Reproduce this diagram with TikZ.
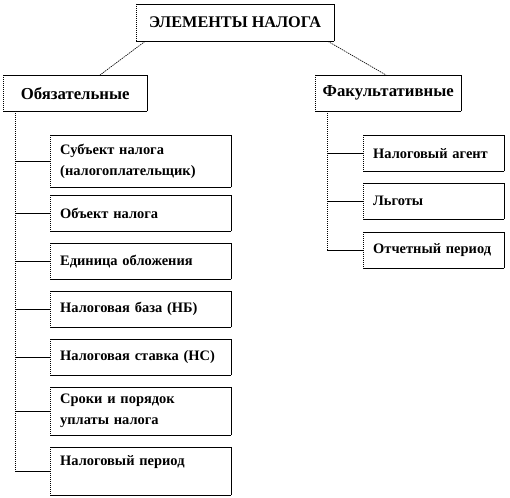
\documentclass[tikz,border=0pt]{standalone}
\usepackage{fontspec}
\setmainfont{Liberation Serif}
\begin{document}
\begin{tikzpicture}[x=1bp,y=-1bp,
  dotline/.style={line width=0.8bp, dash pattern=on 1bp off 1bp},
  frame/.style={draw=none, anchor=north west, inner ysep=0pt, minimum height=36bp,
    font=\bfseries\fontsize{14.5}{21}\selectfont,
    append after command={
      (\tikzlastnode.north west) edge[draw, dotline] (\tikzlastnode.south west)
      (\tikzlastnode.south west) edge[draw, line width=0.8bp] (\tikzlastnode.south east)
      (\tikzlastnode.south east) edge[draw, line width=0.8bp] (\tikzlastnode.north east)
      (\tikzlastnode.north east) edge[draw, line width=0.8bp] (\tikzlastnode.north west)}},
  headbox/.style={frame, align=center, inner xsep=0pt, font=\bfseries\fontsize{16.8}{20}\selectfont},
  lbox/.style={frame, align=left, inner xsep=10bp, text width=161bp},
  rbox/.style={frame, align=left, inner xsep=10bp, text width=121bp},
  link/.style={line width=0.6bp},
  diag/.style={line width=0.6bp, dash pattern=on 1.5bp off 0.8bp}]
\useasboundingbox (0,0) rectangle (510,498);

\node[headbox, minimum width=198bp, minimum height=37bp, font=\bfseries\fontsize{16.3}{20}\selectfont] (top) at (136,4) {ЭЛЕМЕНТЫ НАЛОГА};
\node[headbox, minimum width=144bp] (obl) at (3,75) {Обязательные};
\node[headbox, minimum width=146bp] (fak) at (315,75) {Факультативные};

\draw[diag] ([xshift=9bp]top.south west) -- ([xshift=97bp]obl.north west);
\draw[diag] ([xshift=192bp]top.south west) -- ([xshift=71bp]fak.north west);

\node[lbox, minimum height=52bp] (l1) at (50,135) {Субъект налога\\(налогоплательщик)};
\node[lbox] (l2) at (50,195) {Объект налога};
\node[lbox] (l3) at (50,243) {Единица обложения};
\node[lbox] (l4) at (50,291) {Налоговая база (НБ)};
\node[lbox] (l5) at (50,339) {Налоговая ставка (НС)};
\node[lbox, minimum height=48bp] (l6) at (50,387) {Сроки и порядок\\уплаты налога};
\node[lbox, minimum height=48bp] (l7) at (50,447) {Налоговый период\\\mbox{}};

\node[rbox] (r1) at (363,135) {Налоговый агент};
\node[rbox] (r2) at (363,183) {Льготы};
\node[rbox] (r3) at (363,232) {Отчетный период};

\coordinate (lv) at ([xshift=12bp]obl.south west);
\coordinate (rv) at ([xshift=12bp]fak.south west);

\draw[dotline] (lv) -- (lv |- l7.west);
\draw[dotline] (rv) -- (rv |- r3.west);

\foreach \n in {l1,l2,l3,l4,l5,l6,l7} \draw[link] (lv |- \n.west) -- (\n.west);
\foreach \n in {r1,r2,r3} \draw[link] (rv |- \n.west) -- (\n.west);
\end{tikzpicture}
\end{document}
